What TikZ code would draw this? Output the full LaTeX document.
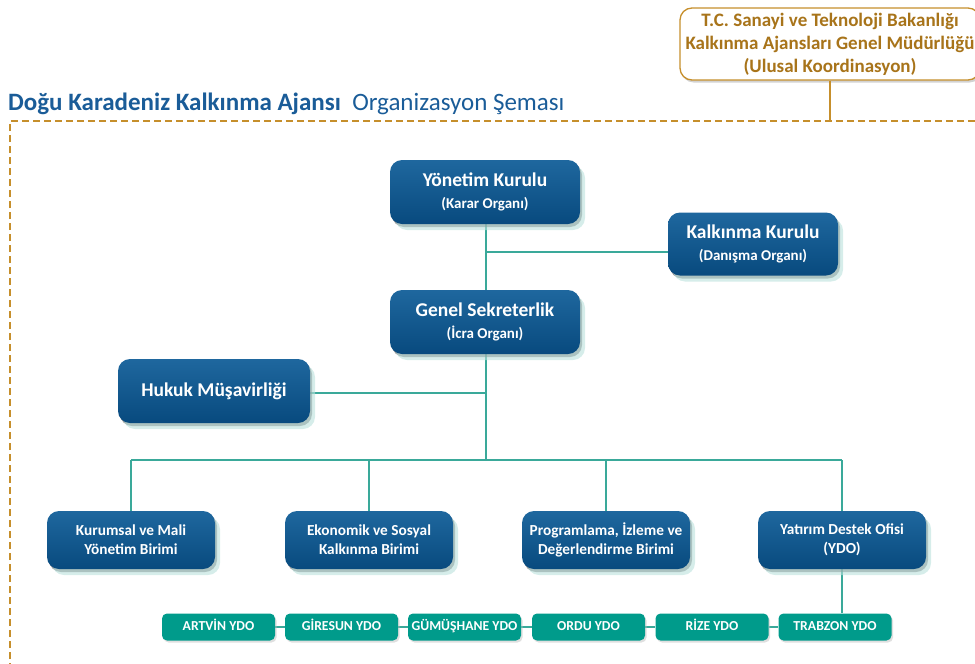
\documentclass[tikz,border=0pt]{standalone}
\usepackage{fontspec}
\setmainfont{Carlito}
\usetikzlibrary{shadows,calc,backgrounds}
\definecolor{boxblue}{HTML}{0B5A96}
\definecolor{boxblueD}{HTML}{084A7E}
\definecolor{tealbox}{HTML}{009B8B}
\definecolor{tealline}{HTML}{3AA99A}
\definecolor{gold}{HTML}{C68F2C}
\definecolor{goldtext}{HTML}{A8741A}
\definecolor{titleblue}{HTML}{1A5C98}
\newcommand{\mtxt}[1]{{\fontsize{19.5}{22}\selectfont #1}}
\newcommand{\stxt}[1]{{\fontsize{15}{22}\selectfont #1}}
\tikzset{
  unit/.style={rounded corners=12pt, top color=boxblue!92!white, bottom color=boxblueD,
    text=white, font=\bfseries\fontsize{19.5}{22}\selectfont, align=center, inner sep=0pt,
    general shadow={fill=black!75, shadow xshift=2pt, shadow yshift=-3pt, opacity=0.55},
    general shadow={fill=tealline!35, shadow xshift=5pt, shadow yshift=-6pt, opacity=0.6}},
  bigunit/.style={unit, minimum width=190pt, minimum height=64pt},
  lowunit/.style={unit, minimum width=168pt, minimum height=58pt, font=\bfseries\fontsize{15.3}{19}\selectfont},
  ydo/.style={rounded corners=5pt, fill=tealbox, text=white, inner sep=0pt,
    minimum width=113pt, minimum height=27pt, text height=10pt, text depth=3pt,
    font=\bfseries\fontsize{13.7}{15}\selectfont,
    general shadow={fill=black!25, shadow xshift=1.5pt, shadow yshift=-2pt, opacity=0.5}},
  conn/.style={draw=tealline, line width=1.2pt},
}
\begin{document}
\begin{tikzpicture}[x=1pt,y=-1pt]
\useasboundingbox (0,0) rectangle (975,664);
% ministry box
\node[draw=gold, line width=1.3pt, fill=white, rounded corners=12pt, minimum width=300pt, minimum height=72pt,
  text=goldtext, font=\bfseries\fontsize{19}{23}\selectfont, align=center, inner sep=0pt,
  general shadow={fill=black!35, shadow xshift=1.5pt, shadow yshift=-2.5pt, opacity=0.5}]
  (top) at (830,44) {T.C. Sanayi ve Teknoloji Bakanlığı\\Kalkınma Ajansları Genel Müdürlüğü\\(Ulusal Koordinasyon)};
\coordinate (dtop) at (830,121);
\draw[gold, line width=1.8pt] (top.south) -- (dtop);
% title
\node[anchor=base west, inner sep=0pt, text=titleblue] (title) at (8,110)
  {\fontsize{25}{28}\selectfont\bfseries Doğu Karadeniz Kalkınma Ajansı\ \ \mdseries Organizasyon Şeması};
% dashed frame
\coordinate (dl) at (10,121);
\coordinate (dr) at (980,121);
\coordinate (db) at (10,670);
\draw[gold, line width=2pt, dash pattern=on 7pt off 4pt] (db) -- (dl) -- (dr);
% main units
\node[bigunit] (yon) at (485,192) {\mtxt{Yönetim Kurulu}\\\stxt{(Karar Organı)}};
\node[unit, minimum width=170pt, minimum height=63pt] (kalk) at (753,244) {\mtxt{Kalkınma Kurulu}\\\stxt{(Danışma Organı)}};
\node[bigunit] (gen) at (485,322) {\mtxt{Genel Sekreterlik}\\\stxt{(İcra Organı)}};
\node[bigunit, minimum width=192pt] (huk) at (214,391) {\mtxt{Hukuk Müşavirliği}};
% lower units
\node[lowunit] (kur) at (131,540) {Kurumsal ve Mali\\Yönetim Birimi};
\node[lowunit] (eko) at (369,540) {Ekonomik ve Sosyal\\Kalkınma Birimi};
\node[lowunit] (pro) at (606,540) {Programlama, İzleme ve\\Değerlendirme Birimi};
\node[lowunit] (yat) at (842,540) {Yatırım Destek Ofisi\\(YDO)};
% YDO boxes
\node[ydo] (art) at (218.5,627) {ARTVİN YDO};
\node[ydo] (gir) at (341.5,627) {GİRESUN YDO};
\node[ydo] (gum) at (464.5,627) {GÜMÜŞHANE YDO};
\node[ydo] (ord) at (588.5,627) {ORDU YDO};
\node[ydo] (riz) at (712,627) {RİZE YDO};
\node[ydo] (tra) at (835,627) {TRABZON YDO};
% connectors
\coordinate (jk) at (486,252);
\coordinate (jh) at (486,393);
\coordinate (bus) at (486,460);
\coordinate (busL) at (131,460);
\coordinate (busR) at (842,460);
\begin{scope}[on background layer]
\draw[conn] (yon.south -| jk) -- (gen.north -| jk);
\draw[conn] (jk) -- (jk -| kalk.west);
\draw[conn] (gen.south -| bus) -- (bus);
\draw[conn] (jh) -- (jh -| huk.east);
\draw[conn] (busL) -- (busR);
\draw[conn] (busL) -- (kur.north);
\draw[conn] (eko.north |- bus) -- (eko.north);
\draw[conn] (pro.north |- bus) -- (pro.north);
\draw[conn] (busR) -- (yat.north);
\draw[conn] (yat.south) -- (tra.north -| yat.south);
\draw[conn] (art.east) -- (gir.west);
\draw[conn] (gir.east) -- (gum.west);
\draw[conn] (gum.east) -- (ord.west);
\draw[conn] (ord.east) -- (riz.west);
\draw[conn] (riz.east) -- (tra.west);
\end{scope}
\end{tikzpicture}
\end{document}
